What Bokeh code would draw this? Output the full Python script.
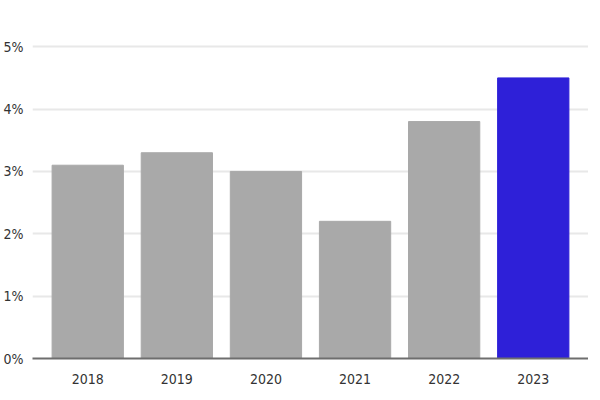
from bokeh.plotting import figure
from bokeh.models import ColumnDataSource, FactorRange, Range1d, FixedTicker, PrintfTickFormatter
from bokeh.embed import file_html
from bokeh.resources import INLINE

years = ["2018", "2019", "2020", "2021", "2022", "2023"]
values = [3.1, 3.3, 3.0, 2.2, 3.8, 4.5]
colors = ["#a9a9a9", "#a9a9a9", "#a9a9a9", "#a9a9a9", "#a9a9a9", "#2e20d8"]
y_ticks = [0, 1, 2, 3, 4, 5]

FONT = "DejaVu Sans Condensed"

src = ColumnDataSource(dict(x=years, top=values, color=colors))

p = figure(width=588, height=392, output_backend="svg", toolbar_location=None,
           x_range=FactorRange(*years, range_padding=0.12, range_padding_units="absolute"),
           y_range=Range1d(0, 5.1),
           min_border_left=29, min_border_right=0, min_border_top=40, min_border_bottom=34)
p.outline_line_color = None
p.vbar(x="x", top="top", width=0.8, color="color", source=src)

p.xgrid.grid_line_color = None
p.ygrid.grid_line_color = "#e8e8e8"
p.ygrid.grid_line_width = 2
p.ygrid.ticker = FixedTicker(ticks=y_ticks)

p.yaxis.ticker = FixedTicker(ticks=y_ticks)
p.yaxis.formatter = PrintfTickFormatter(format="%d%%")
p.yaxis.axis_line_color = None
p.yaxis.major_tick_line_color = None
p.yaxis.minor_tick_line_color = None
p.yaxis.major_tick_out = 0
p.yaxis.minor_tick_out = 0
p.yaxis.major_label_standoff = 9

p.xaxis.axis_line_color = "#6e6e6e"
p.xaxis.axis_line_width = 2
p.xaxis.major_tick_line_color = None
p.xaxis.minor_tick_line_color = None
p.xaxis.major_tick_out = 0
p.xaxis.minor_tick_out = 0
p.xaxis.major_label_standoff = 15

for ax in (p.xaxis, p.yaxis):
    ax.major_label_text_font = FONT
    ax.major_label_text_font_size = "14px"
    ax.major_label_text_color = "#333333"

open("out.html", "w").write(file_html(p, INLINE))
